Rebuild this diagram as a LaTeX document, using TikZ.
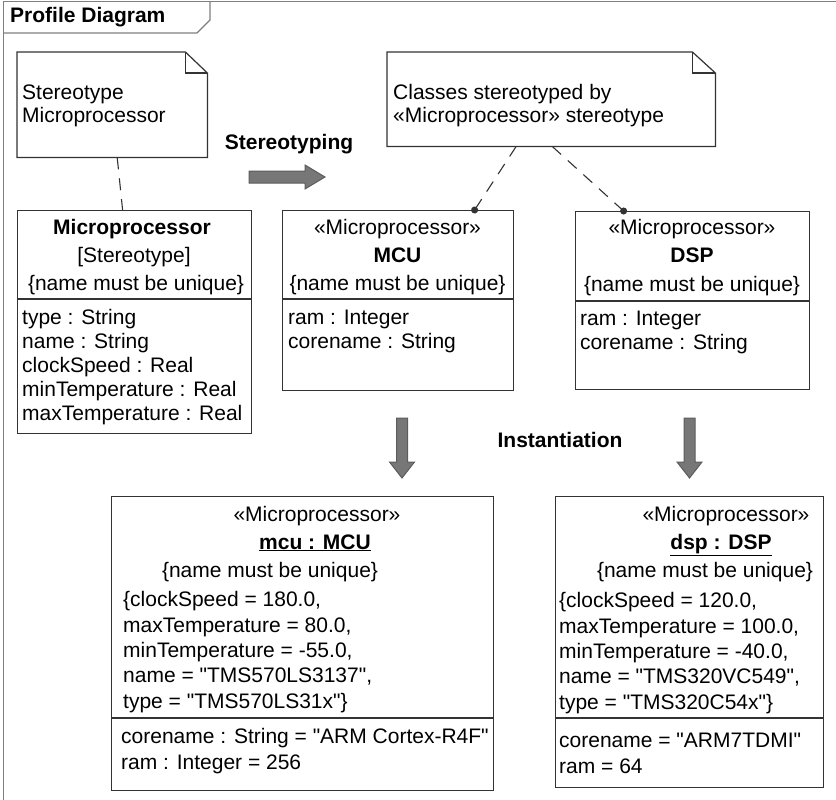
\documentclass[tikz,border=0pt]{standalone}
\usepackage{fontspec}
\setmainfont{Liberation Sans}
\usetikzlibrary{arrows.meta}

\definecolor{linegray}{HTML}{333333}
\definecolor{framegray}{HTML}{7F7F7F}
\definecolor{arrowgray}{HTML}{777777}

\tikzset{
  umlbox/.style={draw=linegray, line width=1.2pt, anchor=north west, inner sep=0pt},
  notebox/.style={anchor=north west, inner sep=0pt},
  noteline/.style={draw=linegray, line width=1.2pt, line join=miter},
  frame/.style={draw=framegray, line width=1.2pt},
  txt/.style={inner sep=0pt, anchor=base west, font=\fontsize{21}{24}\selectfont},
  ctxt/.style={txt, anchor=base},
  btxt/.style={inner sep=0pt, anchor=base, font=\fontsize{21}{24}\selectfont\bfseries},
  slots/.style={txt, align=left},
  noteslots/.style={txt, align=left, font=\fontsize{21}{23}\selectfont},
  islots/.style={txt, align=left, font=\fontsize{21}{25.3}\selectfont},
  dashline/.style={draw=linegray, line width=1.1pt, dash pattern=on 12pt off 9pt},
  blockarrow/.style={draw=linegray!80, fill=arrowgray, line width=1pt, line join=miter}
}
\newcommand{\qt}{\textquotedbl}

\begin{document}
\begin{tikzpicture}[x=1pt, y=-1pt]
    \useasboundingbox (0,0) rectangle (836,800);

    % Frame with title tab
    \node[btxt, anchor=base west] (title) at (10,23) {Profile Diagram};
    \draw[frame] (3.5,800) -- (3.5,1.5) -- (836,1.5);
    \draw[frame] (3.5,33) -- (197,33) -- (210,20) -- (210,1.5);

    % Notes (multi-line texts sit on the baseline of their last line)
    \node[notebox, minimum width=190pt, minimum height=105pt] (note1) at (17,52) {};
    \draw[noteline] (note1.south west) -- (note1.north west) -- ([xshift=-22pt]note1.north east)
        -- ([yshift=-21pt]note1.north east) -- (note1.south east) -- cycle;
    \draw[noteline] ([xshift=-22pt]note1.north east) |- ([yshift=-21pt]note1.north east);
    \node[noteslots] (note1text) at (22,122) {Stereotype\\Microprocessor};

    \node[notebox, minimum width=328pt, minimum height=94pt] (note2) at (387,52) {};
    \draw[noteline] (note2.south west) -- (note2.north west) -- ([xshift=-23pt]note2.north east)
        -- ([yshift=-21pt]note2.north east) -- (note2.south east) -- cycle;
    \draw[noteline] ([xshift=-23pt]note2.north east) |- ([yshift=-21pt]note2.north east);
    \node[noteslots] (note2text) at (393,122) {Classes stereotyped by\\«Microprocessor» stereotype};

    % Stereotype
    \node[umlbox, minimum width=234pt, minimum height=223pt] (proc) at (17,210) {};
    \draw[linegray, line width=1.2pt] (proc.west |- 0,299) -- (proc.east |- 0,299);
    \node[btxt] (procname) at (132,234) {Microprocessor};
    \node[ctxt] (prockind) at (134,262) {[Stereotype]};
    \node[ctxt] (procrule) at (136,290) {\{name must be unique\}};
    \node[slots] (procattr) at (22,420) {type : String\\name : String\\clockSpeed : Real\\minTemperature : Real\\maxTemperature : Real};

    % Stereotyped classes
    \node[umlbox, minimum width=231pt, minimum height=180pt] (mcu) at (282,210) {};
    \draw[linegray, line width=1.2pt] (mcu.west |- 0,299) -- (mcu.east |- 0,299);
    \node[ctxt] (mcustereo) at (397.5,234) {«Microprocessor»};
    \node[btxt] (mcuname) at (397.5,262) {MCU};
    \node[ctxt] (mcurule) at (397.5,290) {\{name must be unique\}};
    \node[slots] (mcuattr) at (288,348) {ram : Integer\\corename : String};

    \node[umlbox, minimum width=234pt, minimum height=178pt] (dsp) at (575,211) {};
    \draw[linegray, line width=1.2pt] (dsp.west |- 0,301) -- (dsp.east |- 0,301);
    \node[ctxt] (dspstereo) at (692,234) {«Microprocessor»};
    \node[btxt] (dspname) at (692,262) {DSP};
    \node[ctxt] (dsprule) at (692,291) {\{name must be unique\}};
    \node[slots] (dspattr) at (580,349) {ram : Integer\\corename : String};

    % Note anchors
    \draw[dashline] ([xshift=5pt]note1.south) -- ([xshift=-12pt]proc.north);
    \draw[dashline, -{Circle[length=7pt]}, shorten >=-3.5pt] ([xshift=-35pt]note2.south) -- ([xshift=76.5pt]mcu.north);
    \draw[dashline, -{Circle[length=7pt]}, shorten >=-3.5pt] ([xshift=1pt]note2.south) -- ([xshift=-69pt]dsp.north);

    % Stereotyping arrow
    \node[btxt] (stereotyping) at (289,149) {Stereotyping};
    \draw[blockarrow] (249,171) -- (305,171) -- (305,165) -- (325,177) -- (305,189) -- (305,183) -- (249,183) -- cycle;

    % Instantiation arrows
    \node[btxt] (instantiation) at (560,447) {Instantiation};
    \foreach \cx in {402,689.5}
        \draw[blockarrow] ({\cx-5.5},418) -- ({\cx+5.5},418) -- ({\cx+5.5},462) -- ({\cx+12.5},462)
            -- (\cx,478) -- ({\cx-12.5},462) -- ({\cx-5.5},462) -- cycle;

    % Instances
    \node[umlbox, minimum width=382pt, minimum height=294pt] (mcuinst) at (111,496) {};
    \draw[linegray, line width=1.2pt] (mcuinst.west |- 0,718) -- (mcuinst.east |- 0,718);
    \node[ctxt] (mcuinststereo) at (317,521) {«Microprocessor»};
    \node[btxt] (mcuinstname) at (315,549) {\underline{mcu : MCU}};
    \node[ctxt] (mcuinstrule) at (270,577) {\{name must be unique\}};
    \node[islots] (mcuinstvals) at (123,708) {\{clockSpeed = 180.0,\\maxTemperature = 80.0,\\minTemperature = -55.0,\\name = \qt TMS570LS3137\qt,\\type = \qt TMS570LS31x\qt\}};
    \node[islots] (mcuinstattr) at (121,769) {corename : String = \qt ARM Cortex-R4F\qt\\ram : Integer = 256};

    \node[umlbox, minimum width=268pt, minimum height=291pt] (dspinst) at (555,496) {};
    \draw[linegray, line width=1.2pt] (dspinst.west |- 0,718) -- (dspinst.east |- 0,718);
    \node[ctxt] (dspinststereo) at (726,521) {«Microprocessor»};
    \node[btxt] (dspinstname) at (721,549) {\underline{dsp : DSP}};
    \node[ctxt] (dspinstrule) at (705,577) {\{name must be unique\}};
    \node[islots] (dspinstvals) at (559,709) {\{clockSpeed = 120.0,\\maxTemperature = 100.0,\\minTemperature = -40.0,\\name = \qt TMS320VC549\qt,\\type = \qt TMS320C54x\qt\}};
    \node[islots] (dspinstattr) at (559,773) {corename = \qt ARM7TDMI\qt\\ram = 64};

\end{tikzpicture}
\end{document}
